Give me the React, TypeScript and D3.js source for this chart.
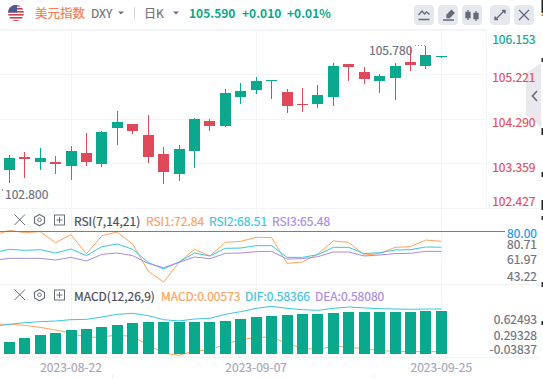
import React from "react";
import * as d3 from "d3";

const opens = [103.223,103.495,103.390,103.390,103.306,103.579,103.348,104.102,104.186,103.955,103.558,103.139,103.620,104.248,104.144,104.751,104.897,105.086,104.855,104.604,104.604,104.751,105.441,105.274,105.086,105.148,105.483,105.400,105.580];
const closes = [103.474,103.453,103.474,103.348,103.620,103.390,104.018,104.227,104.039,103.495,103.181,103.662,104.290,104.144,104.834,104.876,105.086,105.106,104.562,104.583,104.793,105.400,105.379,105.127,105.190,105.400,105.420,105.630,105.600];
const highs = [103.537,103.600,103.683,103.516,103.725,103.997,104.039,104.458,104.186,104.374,103.704,103.746,104.311,104.290,104.918,105.044,105.169,105.106,104.918,104.939,105.002,105.462,105.441,105.379,105.232,105.462,105.797,105.818,105.600];
const lows = [102.951,103.055,103.223,103.139,103.014,103.306,103.285,103.746,103.976,103.369,102.930,102.993,103.265,104.039,104.123,104.604,104.813,104.709,104.416,104.437,104.520,104.562,105.086,105.023,104.834,104.688,105.295,105.337,105.567];

// first entry of each line series sits one session before the first candle
const rsi1 = [77.2,80.85,79.15,79.88,71.85,77.69,63.57,76.96,79.63,70.63,51.17,43.14,57.49,66.98,62.12,72.09,72.82,75.74,75.5,56.76,57.74,63.57,73.06,72.09,62.85,63.82,68.44,68.93,73.79,72.84];
const rsi2 = [64.55,66.98,66.25,66.74,64.3,67.22,62.36,68.93,70.87,66.98,57.49,52.63,57.74,64.3,62.12,67.71,67.95,69.66,69.66,61.14,61.14,63.09,68.44,68.44,63.82,64.55,66.49,66.74,68.68,68.51];
const rsi3 = [58.95,60.41,60.41,60.41,59.19,61.14,58.46,63.33,64.3,62.36,56.76,53.6,57.49,61.38,60.17,64.06,64.3,65.28,65.52,59.92,60.17,61.63,65.03,65.03,62.12,62.85,63.82,64.06,65.52,65.48];

const macdBars = [.162,.216,.257,.284,.324,.338,.365,.392,.419,.432,.432,.432,.432,.432,.446,.473,.5,.514,.527,.541,.541,.554,.568,.568,.568,.568,.568,.581,.581];
const difLine = [.374,.401,.423,.437,.446,.464,.468,.5,.536,.55,.518,.464,.446,.473,.482,.536,.572,.617,.644,.617,.599,.59,.617,.635,.622,.613,.608,.604,.608,.608];
const macdLine = [.405,.401,.387,.36,.324,.284,.225,.23,.257,.234,.122,.014,-.018,.041,.054,.131,.194,.225,.23,.144,.077,.063,.104,.095,.068,.045,.036,.032,.032,.032];

const priceTicks = ["106.153","105.221","104.290","103.359","102.427"];
const priceTickY = [38.5,76,121.5,166.5,200];
const priceTickColors = ["#0aa88c","#e0505f","#e0505f","#e0505f","#e0505f"];
const gridValues = [106.153,105.221,104.290,103.359,102.427];
const rsiTicks = ["80.71","61.97","43.22"];
const rsiTickY = [243,258.5,275.5];
const macdTicks = ["0.62493","0.29328","-0.03837"];
const macdTickY = [318,334,348.5];
const dateLabels = [{ i: 4, t: "2023-08-22" }, { i: 16, t: "2023-09-07" }, { i: 28, t: "2023-09-25" }];
const edgeMarks = [[0,13,"#222"],[14,2,"#e08a2c"],[58,4,"#333"],[128,7,"#222"],[172,5,"#222"],[200,10,"#222"],[216,4,"#333"],[282,5,"#333"],[321,4,"#222"]] as [number,number,string][];

const GREEN = "#0aa88c";
const RED = "#de4a5a";
const ORANGE = "#ffa45c";
const CYAN = "#3cc6e2";
const PURPLE = "#a98be8";
const GRID = "#f3f4f8";
const GREYTXT = "#6f7280";
const FONT = '"Noto Sans CJK SC","Noto Sans",sans-serif';

const x = d3.scaleLinear().domain([0, 28]).range([9.3, 441.3]);
const yPrice = d3.scaleLinear().domain([102.427, 106.153]).range([208, 30]);
const yRsi = d3.scaleLinear().domain([80, 43]).range([231.5, 282.2]);
const yMacd = d3.scaleLinear().domain([0, 0.581]).range([354, 311]);
const px = (v: number) => Math.floor(v) + 0.5;

function seriesPath(vals: number[], y: (v: number) => number) {
  return d3.line<number>().x((_, i) => x(i - 1)).y((d) => y(d))(vals) || "";
}

const Txt = ({ x, y, c, s = 12, a = "start", w = 400, children }: any) => (
  <text x={x} y={y} fill={c} stroke={c} strokeWidth={w === 700 ? 0 : 0.2} fontSize={s} textAnchor={a} fontWeight={w} dominantBaseline="central" fontFamily={FONT}>
    {children}
  </text>
);

const PaneIcons = ({ y }: { y: number }) => (
  <g fill="none" stroke="#6b6f7c" strokeWidth={1}>
    <path d={`M14.5 ${y - 5.5}L25 ${y + 5}M25 ${y - 5.5}L14.5 ${y + 5}`} />
    <path d={`M39.5 ${y - 5.5}l5 2.8v5.6l-5 2.8l-5-2.8v-5.6z`} strokeWidth={1.2} />
    <circle cx={39.5} cy={y - 0.2} r={1.8} />
    <rect x={54.5} y={y - 5} width={10} height={10} />
    <path d={`M59.5 ${y - 3}v6M56.5 ${y}h6`} />
  </g>
);

function App() {
  const btns = [414, 438, 462, 490, 514];
  const indexes = d3.range(29);
  return (
    <svg
      width={543}
      height={379}
      style={{ position: "fixed", left: 0, top: 0, background: "#fff" }}
    >
      <defs>
        <clipPath id="flag"><circle cx={16} cy={13} r={8} /></clipPath>
        <clipPath id="plot"><rect x={0} y={208} width={486} height={150} /></clipPath>
      </defs>

      {/* grid */}
      {gridValues.map((v) => (
        <line key={v} x1={0} x2={v === 102.427 ? 541 : 486} y1={px(yPrice(v))} y2={px(yPrice(v))} stroke={GRID} />
      ))}
      <line x1={0} x2={541} y1={284.5} y2={284.5} stroke={GRID} />
      <line x1={0} x2={541} y1={357.5} y2={357.5} stroke={GRID} />
      <line x1={486.5} x2={486.5} y1={30} y2={208} stroke={GRID} />
      {dateLabels.map((d) => (
        <line key={d.t} x1={px(x(d.i))} x2={px(x(d.i))} y1={30} y2={357} stroke={GRID} />
      ))}
      <line x1={112.5} x2={112.5} y1={375} y2={379} stroke="#eee" />
      <line x1={374.5} x2={374.5} y1={375} y2={379} stroke="#eee" />
      {edgeMarks.map(([ey, eh, ec]) => (
        <rect key={ey} x={541.5} y={ey} width={1.5} height={eh} fill={ec} />
      ))}

      {/* candles */}
      {indexes.map((i) => {
        const up = closes[i] >= opens[i];
        const col = up ? GREEN : RED;
        const cx = px(x(i));
        const t = yPrice(Math.max(opens[i], closes[i]));
        const b = yPrice(Math.min(opens[i], closes[i]));
        return (
          <g key={i}>
            <line x1={cx} x2={cx} y1={yPrice(highs[i])} y2={yPrice(lows[i])} stroke={col} />
            <rect x={cx - 5.5} y={Math.round(t)} width={11} height={Math.max(1, Math.round(b - t))} fill={col} />
          </g>
        );
      })}

      {/* annotations */}
      <Txt x={369} y={49} c={GREYTXT} s={12}>105.780</Txt>
      <line x1={415} x2={425} y1={45.5} y2={45.5} stroke="#9a9ca8" strokeDasharray="1 2" />
      <Txt x={5} y={193.5} c={GREYTXT} s={12}>102.800</Txt>
      <rect x={2} y={189} width={1} height={2} fill="#9a9ca8" />

      {/* RSI */}
      <g clipPath="url(#plot)" fill="none" strokeWidth={1}>
        <path d={seriesPath(rsi1, yRsi)} stroke={ORANGE} />
        <path d={seriesPath(rsi2, yRsi)} stroke={CYAN} />
        <path d={seriesPath(rsi3, yRsi)} stroke={PURPLE} />
      </g>
      <line x1={0} x2={505} y1={231.5} y2={231.5} stroke="#2196f3" />

      {/* MACD: the orange line runs behind the bars, the cyan above them */}
      <g clipPath="url(#plot)" fill="none" strokeWidth={1}>
        <path d={seriesPath(macdLine, yMacd)} stroke={ORANGE} />
      </g>
      {macdBars.map((v, i) => (
        <rect key={i} x={px(x(i)) - 5.5} y={Math.round(yMacd(v))} width={11} height={Math.round(yMacd(0) - yMacd(v))} fill={GREEN} />
      ))}
      <g clipPath="url(#plot)" fill="none" strokeWidth={1}>
        <path d={seriesPath(difLine, yMacd)} stroke={CYAN} />
      </g>

      {/* header */}
      <line x1={0} x2={486} y1={29.5} y2={29.5} stroke={GRID} />
      <g clipPath="url(#flag)">
        <rect x={8} y={5} width={16} height={16} fill="#fff" />
        {[5, 8, 11, 14, 17, 20].map((sy) => (
          <rect key={sy} x={8} y={sy} width={16} height={1.6} fill="#c8404f" />
        ))}
        <rect x={8} y={5} width={9} height={7.5} fill="#4a5a94" />
      </g>
      <Txt x={35} y={12.5} c="#ff7a50" s={12.5}>美元指数</Txt>
      <Txt x={91} y={12.5} c={GREYTXT} s={12}>DXY</Txt>
      <path d="M118 11.5h6l-3 3z" fill={GREYTXT} />
      <line x1={134.5} x2={134.5} y1={7} y2={19} stroke="#d5d7de" />
      <Txt x={144} y={12.5} c={GREYTXT} s={12}>日K</Txt>
      <path d="M173 11.5h6l-3 3z" fill={GREYTXT} />
      <Txt x={189} y={12.5} c={GREEN} s={12} w={700}>105.590</Txt>
      <Txt x={242} y={12.5} c={GREEN} s={12} w={700}>+0.010</Txt>
      <Txt x={287} y={12.5} c={GREEN} s={12} w={700}>+0.01%</Txt>
      {btns.map((b) => (
        <rect key={b} x={b} y={5} width={20} height={20} rx={4} fill="#e6e8ef" />
      ))}
      <g fill="none" stroke="#666a78" strokeWidth={1.3}>
        <path d="M418.5 15l3.5-4l2.5 3l2-2l3 2.5M418.5 19.5h11" />
        <path d="M447 15l4.5-4.5l2.5 2.5l-4.5 4.5h-2.5zM443 20h11" fill="#666a78" />
        <path d="M468 10v10M476 11v10" />
        <path d="M466 12.5h4v5h-4zM474 13.5h4v5h-4z" fill="#666a78" />
        <path d="M496 19l8-8" />
        <path d="M502 10.5h3v3M495 16.5v3h3" fill="#666a78" />
        <path d="M519 10l10 10M529 10l-10 10" />
      </g>

      {/* price axis */}
      <path d="M526 73L541 63V127L526 115Z" fill="#e9e9ed" />
      <path d="M537 91L532.5 96L537 101" fill="none" stroke="#6b7280" strokeWidth={1.8} />
      {priceTicks.map((t, i) => (
        <Txt key={t} x={535.5} y={priceTickY[i]} c={priceTickColors[i]} s={12} a="end">{t}</Txt>
      ))}

      {/* RSI header + axis */}
      <PaneIcons y={220} />
      <Txt x={74} y={220.5} c="#4a4d5a" s={12}>RSI(7,14,21)</Txt>
      <Txt x={146} y={220.5} c={ORANGE} s={12}>RSI1:72.84</Txt>
      <Txt x={209} y={220.5} c={CYAN} s={12}>RSI2:68.51</Txt>
      <Txt x={272} y={220.5} c={PURPLE} s={12}>RSI3:65.48</Txt>
      <Txt x={537} y={232} c="#2196f3" s={12} a="end">80.00</Txt>
      {rsiTicks.map((t, i) => (
        <Txt key={t} x={537} y={rsiTickY[i]} c={GREYTXT} s={12} a="end">{t}</Txt>
      ))}

      {/* MACD header + axis */}
      <PaneIcons y={295} />
      <Txt x={74} y={295} c="#4a4d5a" s={12}>MACD(12,26,9)</Txt>
      <Txt x={161} y={295} c={ORANGE} s={12}>MACD:0.00573</Txt>
      <Txt x={245} y={295} c={CYAN} s={12}>DIF:0.58366</Txt>
      <Txt x={315} y={295} c={PURPLE} s={12}>DEA:0.58080</Txt>
      {macdTicks.map((t, i) => (
        <Txt key={t} x={537} y={macdTickY[i]} c={GREYTXT} s={12} a="end">{t}</Txt>
      ))}

      {/* dates */}
      {dateLabels.map((d) => (
        <Txt key={d.t} x={x(d.i)} y={366.5} c="#a7a9b8" s={12} a="middle">{d.t}</Txt>
      ))}
    </svg>
  );
}

export default App;
